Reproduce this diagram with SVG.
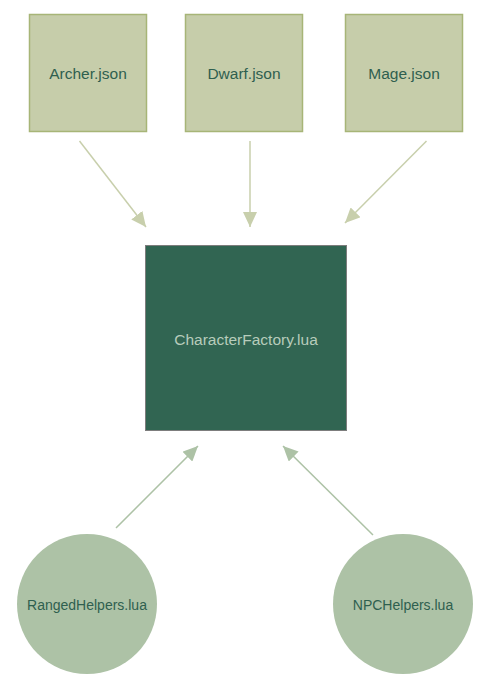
<svg xmlns="http://www.w3.org/2000/svg" width="485" height="690" viewBox="0 0 485 690">
<style>
.box{fill:#c6cdaa;stroke:#a7b577;stroke-width:1.5}
.core{fill:#316552;stroke:#7d7d7d;stroke-width:1}
.circ{fill:#adc2a6}
.t{font-family:"Liberation Sans",Arial,sans-serif;text-anchor:middle;fill:#2f5f4f}
.e1{stroke:#c8cfac;stroke-width:1.5;fill:none}
.e2{stroke:#adc2a6;stroke-width:1.5;fill:none}
</style>
<defs>
<marker id="a1" markerUnits="userSpaceOnUse" markerWidth="16" markerHeight="14" refX="15" refY="7" orient="auto"><path d="M0,0 L15,7 L0,14 Z" fill="#c8cfac"/></marker>
<marker id="a2" markerUnits="userSpaceOnUse" markerWidth="16" markerHeight="14" refX="15" refY="7" orient="auto"><path d="M0,0 L15,7 L0,14 Z" fill="#adc2a6"/></marker>
</defs>
<rect width="485" height="690" fill="#ffffff"/>
<g id="edges">
<line class="e1" x1="79.5" y1="141" x2="146" y2="227" marker-end="url(#a1)"/>
<line class="e1" x1="250" y1="141" x2="250" y2="227" marker-end="url(#a1)"/>
<line class="e1" x1="426.5" y1="141" x2="345" y2="223" marker-end="url(#a1)"/>
<line class="e2" x1="116" y1="528" x2="198" y2="446" marker-end="url(#a2)"/>
<line class="e2" x1="373" y1="535" x2="283" y2="446" marker-end="url(#a2)"/>
</g>
<g id="archer"><rect class="box" x="29.5" y="14.5" width="117" height="117"/><text class="t" x="88" y="78.5" font-size="15.5">Archer.json</text></g>
<g id="dwarf"><rect class="box" x="185.5" y="14.5" width="117" height="117"/><text class="t" x="244" y="78.5" font-size="15.5">Dwarf.json</text></g>
<g id="mage"><rect class="box" x="345.5" y="14.5" width="117" height="117"/><text class="t" x="404" y="78.5" font-size="15.5">Mage.json</text></g>
<g id="factory"><rect class="core" x="145.5" y="245.5" width="201" height="185"/><text class="t" x="246" y="344.5" font-size="15.5" style="fill:#b7ccbb">CharacterFactory.lua</text></g>
<g id="ranged"><circle class="circ" cx="87" cy="604" r="70"/><text class="t" x="87" y="609.5" font-size="14">RangedHelpers.lua</text></g>
<g id="npc"><circle class="circ" cx="403" cy="604" r="70"/><text class="t" x="403" y="609.5" font-size="14">NPCHelpers.lua</text></g>
</svg>
